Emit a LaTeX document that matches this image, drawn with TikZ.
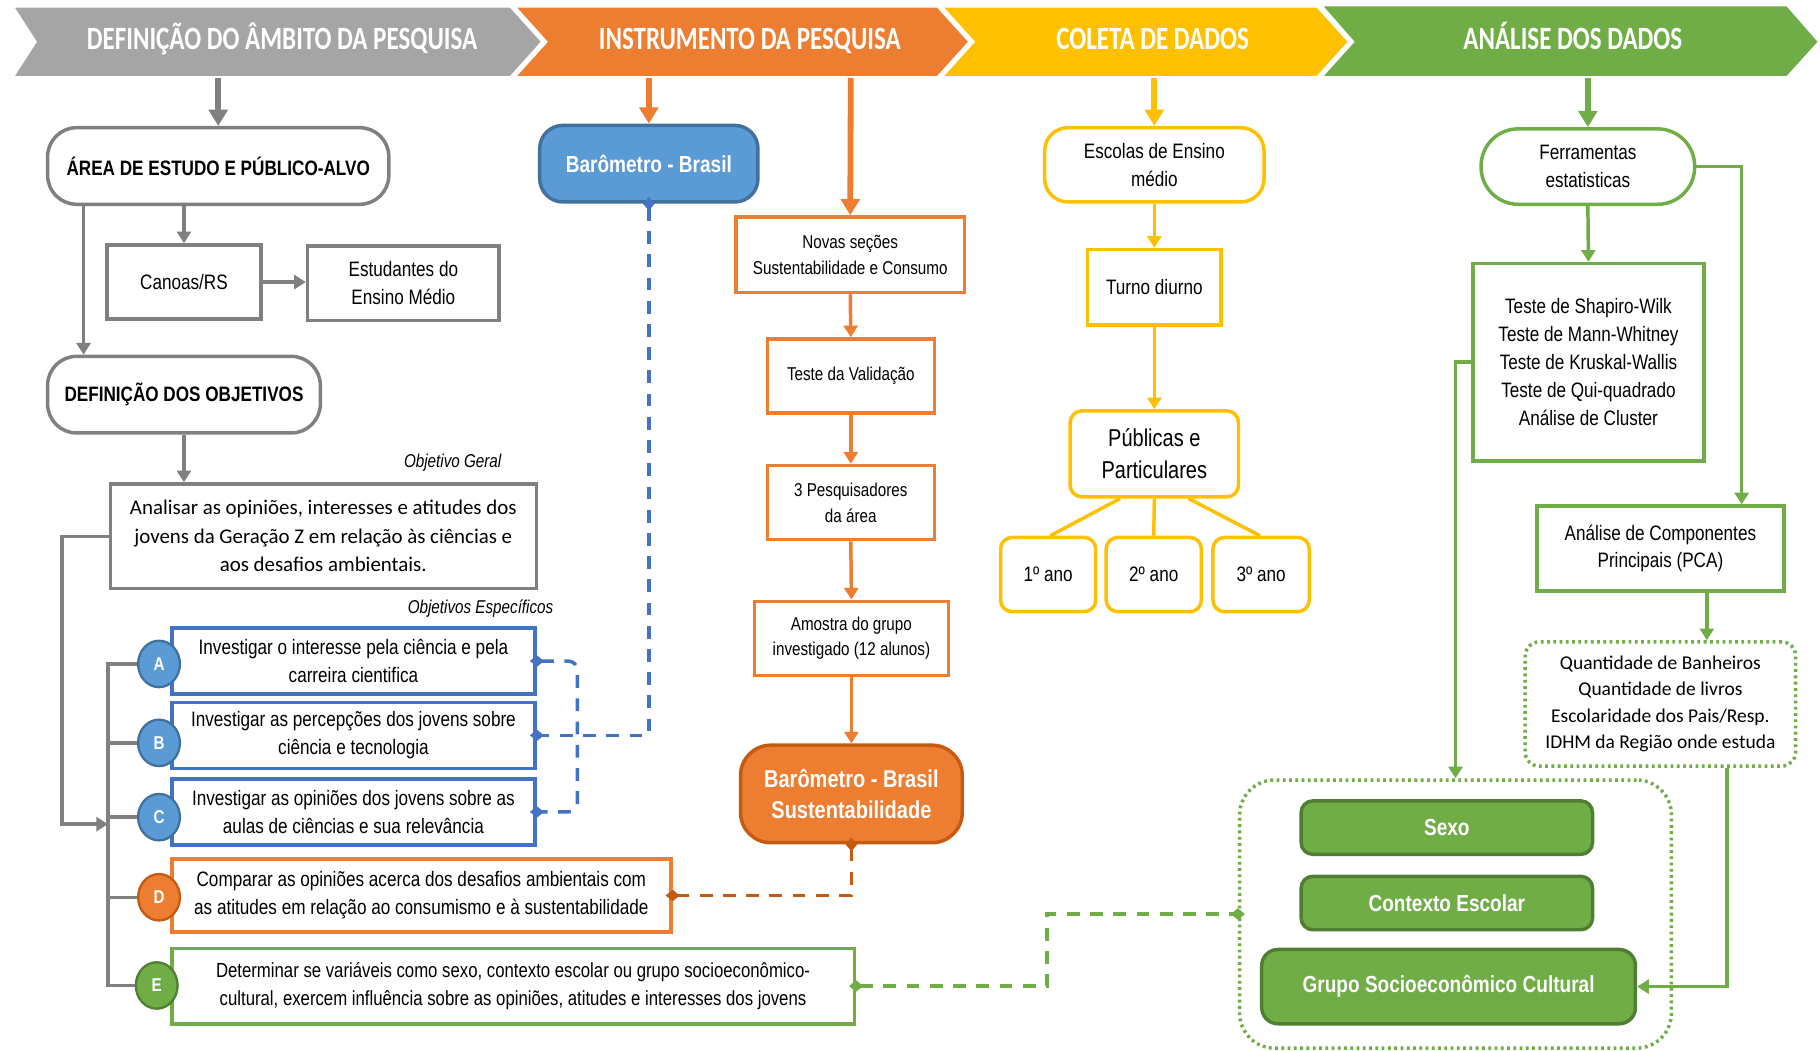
\documentclass[tikz,border=0pt]{standalone}
\usepackage{fontspec}
\setmainfont{Liberation Sans}
\newfontfamily\nar[FakeStretch=0.82]{Liberation Sans}
\newfontfamily\calf{Carlito}
\newfontfamily\calcond[FakeStretch=0.77]{Carlito}
\usetikzlibrary{arrows.meta,shapes.geometric,calc}
\definecolor{cgray}{HTML}{A5A5A5}
\definecolor{cgrayl}{HTML}{808080}
\definecolor{corange}{HTML}{ED7D31}
\definecolor{cdorange}{HTML}{C55A11}
\definecolor{cyellow}{HTML}{FFC000}
\definecolor{cgreen}{HTML}{70AD47}
\definecolor{cdgreen}{HTML}{507E32}
\definecolor{cblue}{HTML}{5B9BD5}
\definecolor{cdblue}{HTML}{41719C}
\definecolor{cbline}{HTML}{4472C4}
\newcommand\bx[7]{%
  \pgfmathsetmacro\bxw{(#5-#3)*0.5}%
  \pgfmathsetmacro\bxh{(#6-#4)*0.5}%
  \node[#2, minimum width=\bxw pt, minimum height=\bxh pt] (#1) at ({(#3+#5)/2},{(#4+#6)/2}) {#7};}
\tikzset{
  base/.style={line width=1.5pt, align=center, inner sep=0pt, text=black},
  gbox/.style={base, draw=cgrayl, fill=white, font=\nar\fontsize{9}{12}\selectfont},
  grnd/.style={gbox, rounded corners=12.5pt, font=\nar\bfseries\fontsize{9}{12}\selectfont},
  ogbox/.style={gbox, font=\calf\fontsize{9}{12.25}\selectfont},
  obox/.style={base, draw=corange, fill=white, font=\nar\fontsize{8}{11}\selectfont},
  ybox/.style={base, draw=cyellow, fill=white, rounded corners=5pt, font=\nar\fontsize{9}{12}\selectfont},
  grbox/.style={base, draw=cgreen, fill=white, font=\nar\fontsize{9}{12}\selectfont},
  gfill/.style={base, draw=cdgreen, fill=cgreen, text=white, rounded corners=5pt, font=\nar\bfseries\fontsize{10}{12}\selectfont},
  bluebox/.style={base, draw=cbline, fill=white, font=\nar\fontsize{9}{12}\selectfont},
  letter/.style={ellipse, line width=1pt, text=white, font=\nar\bfseries\fontsize{8}{8}\selectfont, minimum width=18pt, minimum height=20pt, inner sep=0pt},
  htext/.style={text=white, font=\calcond\bfseries\fontsize{14}{16}\selectfont, inner sep=0pt, anchor=base},
  lbl/.style={font=\nar\itshape\fontsize{8}{9}\selectfont, inner sep=0pt, text=black},
  arrthick/.style={line width=2.5pt, -{Triangle[length=7pt,width=8pt]}},
  arrthin/.style={line width=1.5pt, -{Triangle[length=5pt,width=6pt]}},
  dia/.style={{Diamond[length=6pt,width=5pt]}-{Diamond[length=6pt,width=5pt]}, shorten <=-3pt, shorten >=-3pt},
  dashln/.style={line width=1.5pt, dash pattern=on 5.5pt off 4.5pt},
  dotln/.style={line width=1.5pt, dash pattern=on 1.2pt off 1.5pt},
}
\begin{document}
\begin{tikzpicture}[x=0.5pt,y=-0.5pt]
\useasboundingbox[fill=white] (0,0) rectangle (1568,905);
% ---------- header ----------
\filldraw[cgray, draw=white, line width=1.5pt] (10,5) -- (440,5) -- (468,36) -- (440,67) -- (10,67) -- (30,36) -- cycle;
\filldraw[corange, draw=white, line width=1.5pt] (442,5) -- (808,5) -- (836,36) -- (808,67) -- (442,67) -- (470,36) -- cycle;
\filldraw[cyellow, draw=white, line width=1.5pt] (810,5) -- (1135,5) -- (1163,36) -- (1135,67) -- (810,67) -- (838,36) -- cycle;
\filldraw[cgreen, draw=white, line width=1.5pt] (1137,4) -- (1540,4) -- (1568,36) -- (1540,67) -- (1137,67) -- (1165,36) -- cycle;
\node[htext] (h1) at (243,43) {DEFINIÇÃO DO ÂMBITO DA PESQUISA};
\node[htext] (h2) at (646,43) {INSTRUMENTO DA PESQUISA};
\node[htext] (h3) at (993,43) {COLETA DE DADOS};
\node[htext] (h4) at (1355,43) {ANÁLISE DOS DADOS};
\coordinate (h1b) at (188,67);
\coordinate (h2a) at (559,67);
\coordinate (h2b) at (733,67);
\coordinate (h3b) at (994.5,67);
\coordinate (h4b) at (1368,67);
% ---------- column 1 ----------
\bx{area}{grnd}{41}{110}{335}{176}{ÁREA DE ESTUDO E PÚBLICO-ALVO}
\bx{canoas}{gbox}{92}{211}{225}{275}{Canoas/RS}
\bx{estud}{gbox}{265}{212}{430}{276}{Estudantes do\\Ensino Médio}
\bx{defin}{grnd}{41}{307}{276}{373}{DEFINIÇÃO DOS OBJETIVOS}
\bx{og}{ogbox}{95}{417}{462}{507}{Analisar as opiniões, interesses e atitudes dos\\jovens da Geração Z em relação às ciências e\\aos desafios ambientais.}
\node[lbl] (lblog) at (390,399) {Objetivo Geral};
\node[lbl] (lbloe) at (414,524) {Objetivos Específicos};
\bx{oa}{bluebox}{148}{541}{461}{598}{Investigar o interesse pela ciência e pela\\carreira cientifica}
\bx{ob}{bluebox}{148}{605}{461}{662}{Investigar as percepções dos jovens sobre\\ciência e tecnologia}
\bx{oc}{bluebox}{148}{671}{461}{728}{Investigar as opiniões dos jovens sobre as\\aulas de ciências e sua relevância}
\bx{od}{gbox, draw=corange}{148}{740}{578}{803}{Comparar as opiniões acerca dos desafios ambientais com\\as atitudes em relação ao consumismo e à sustentabilidade}
\bx{oe}{gbox, draw=cgreen, font=\nar\fontsize{8.8}{12}\selectfont}{148}{817}{736}{882}{Determinar se variáveis como sexo, contexto escolar ou grupo socioeconômico-\\cultural, exercem influência sobre as opiniões, atitudes e interesses dos jovens}
\node[letter, fill=cblue, draw=cdblue] (ca) at (137,572) {A};
\node[letter, fill=cblue, draw=cdblue] (cb) at (137,640) {B};
\node[letter, fill=cblue, draw=cdblue] (cc) at (137,704) {C};
\node[letter, fill=corange, draw=cdorange] (cd) at (137,773) {D};
\node[letter, fill=cgreen, draw=cdgreen] (ce) at (135,849) {E};
\coordinate (bus) at (93,710);
% gray connectors
\draw[arrthick, cgrayl] (h1b) -- (area.north);
\draw[arrthin, cgrayl] (area.south -| canoas.north) -- (canoas.north);
\draw[arrthin, cgrayl] (canoas.east) -- (canoas.east -| estud.west);
\draw[arrthin, cgrayl] ([xshift=-58pt]area.south) -- ([xshift=-58pt]area.south |- defin.north);
\draw[arrthin, cgrayl] (defin.south) -- (defin.south |- og.north);
\draw[arrthin, cgrayl] (og.west) -- ++(-20pt,0) |- (bus);
\draw[line width=1.5pt, cgrayl] (ca.west) -- (ca.west -| bus) -- (ce.west -| bus) -- (ce.west);
\draw[line width=1.5pt, cgrayl] (cb.west -| bus) -- (cb.west);
\draw[line width=1.5pt, cgrayl] (cc.west -| bus) -- (cc.west);
\draw[line width=1.5pt, cgrayl] (cd.west -| bus) -- (cd.west);
% ---------- column 2 ----------
\bx{baro}{base, draw=cdblue, fill=cblue, text=white, rounded corners=10pt, font=\nar\bfseries\fontsize{10}{12}\selectfont}{465}{108}{653}{174}{Barômetro - Brasil}
\bx{novas}{obox}{634}{187}{831}{252}{Novas seções\\Sustentabilidade e Consumo}
\bx{teste}{obox}{661}{292}{805}{356}{Teste da Validação}
\bx{pesq}{obox}{661}{401}{805}{465}{3 Pesquisadores\\da área}
\bx{amos}{obox}{650}{518}{817}{582}{Amostra do grupo\\investigado (12 alunos)}
\bx{bs}{base, draw=cdorange, fill=corange, text=white, rounded corners=13pt, font=\nar\bfseries\fontsize{10.5}{13.5}\selectfont}{638}{642}{829}{726}{Barômetro - Brasil\\Sustentabilidade}
\draw[arrthick, corange] (h2a) -- (baro.north);
\draw[arrthick, corange] (h2b) -- (novas.north);
\draw[arrthin, corange] (novas.south) -- (teste.north);
\draw[arrthin, corange] (teste.south) -- (pesq.north);
\draw[arrthin, corange] (pesq.south) -- (amos.north);
\draw[arrthin, corange] (amos.south) -- (bs.north);
% dashed links
\draw[dashln, dia, cbline] (baro.south) |- (ob.east);
\draw[dashln, dia, cbline, rounded corners=4pt] (oa.east) -- ++(17.5pt,0) |- (oc.east);
\draw[dashln, dia, cdorange] (bs.south) |- (od.east);
% ---------- column 3 ----------
\bx{esc}{ybox, rounded corners=10pt}{900}{110}{1089}{174}{Escolas de Ensino\\médio}
\bx{turno}{ybox, rounded corners=0pt}{937}{215}{1052}{280}{Turno diurno}
\bx{pub}{ybox, font=\nar\fontsize{10.5}{14}\selectfont}{922}{354}{1067}{428}{Públicas e\\Particulares}
\bx{y1}{ybox}{862}{463}{944}{527}{1º ano}
\bx{y2}{ybox}{953}{463}{1035}{527}{2º ano}
\bx{y3}{ybox}{1045}{463}{1128}{527}{3º ano}
\draw[arrthick, cyellow] (h3b) -- (esc.north);
\draw[arrthin, cyellow] (esc.south) -- (turno.north);
\draw[arrthin, cyellow] (turno.south) -- (pub.north);
\draw[line width=1.5pt, cyellow] ([xshift=-14.75pt]pub.south) -- ([xshift=1pt]y1.north);
\draw[line width=1.5pt, cyellow] (pub.south) -- (y2.north);
\draw[line width=1.5pt, cyellow] ([xshift=14.75pt]pub.south) -- ([xshift=-0.5pt]y3.north);
% ---------- column 4 ----------
\bx{ferr}{grbox, rounded corners=16pt}{1276}{111}{1460}{176}{Ferramentas\\estatisticas}
\bx{tests}{grbox}{1269}{227}{1468}{397}{Teste de Shapiro-Wilk\\Teste de Mann-Whitney\\Teste de Kruskal-Wallis\\Teste de Qui-quadrado\\Análise de Cluster}
\bx{pca}{grbox}{1324}{436}{1537}{509}{Análise de Componentes\\Principais (PCA)}
\bx{qd}{base, draw=cgreen, dotln, rounded corners=6pt, font=\calf\fontsize{8.4}{11.3}\selectfont}{1314}{553}{1547}{660}{Quantidade de Banheiros\\Quantidade de livros\\Escolaridade dos Pais/Resp.\\IDHM da Região onde estuda}
\bx{cont}{base, draw=cgreen, dotln, rounded corners=15pt}{1068}{672}{1440}{903}{}
\bx{sexo}{gfill}{1121}{690}{1372}{736}{Sexo}
\bx{ctx}{gfill}{1121}{755}{1372}{801}{Contexto Escolar}
\bx{grupo}{gfill, rounded corners=7pt}{1087}{818}{1409}{882}{Grupo Socioeconômico Cultural}
\draw[arrthick, cgreen] (h4b) -- (ferr.north);
\draw[arrthin, cgreen] (ferr.south) -- (tests.north);
\draw[arrthin, cgreen] (ferr.east) -| ([xshift=35pt]pca.north);
\draw[arrthin, cgreen] (tests.west) -| (cont.north);
\draw[arrthin, cgreen] ([xshift=20pt]pca.south) -- ([xshift=20pt]pca.south |- qd.north);
\draw[arrthin, cgreen] ([xshift=28.75pt]qd.south) |- (grupo.east);
\coordinate (gmid) at ($(oe.east)!0.5!(cont.west)$);
\draw[dashln, dia, cgreen] (oe.east) -- (oe.east -| gmid) -- (gmid |- cont.west) -- (cont.west);
\end{tikzpicture}
\end{document}
